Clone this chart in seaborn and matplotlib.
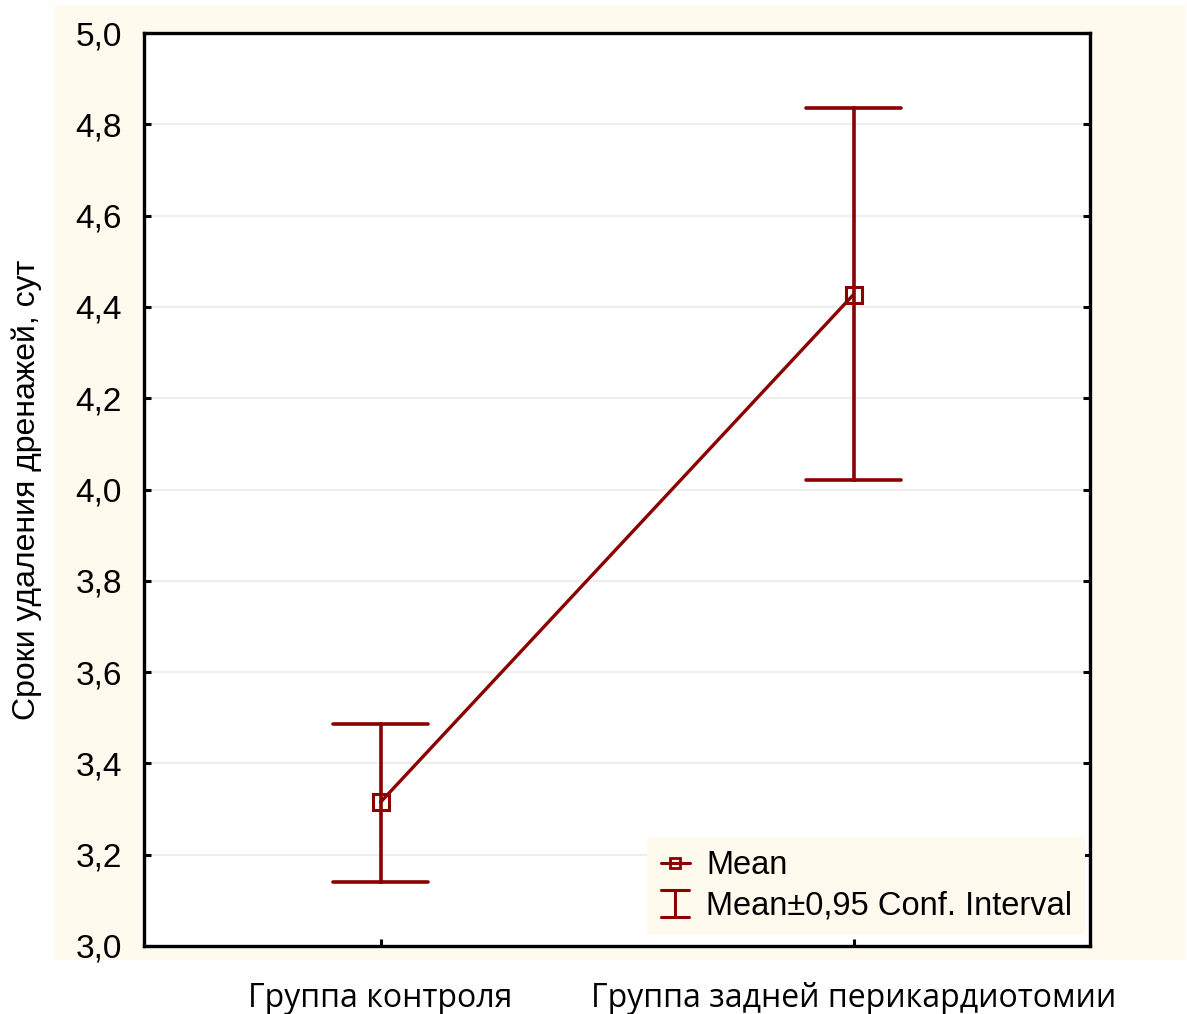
import numpy as np
import pandas as pd
import matplotlib
matplotlib.use("Agg")
import matplotlib.pyplot as plt
from matplotlib.lines import Line2D
from matplotlib.legend_handler import HandlerBase
from matplotlib.patches import Rectangle
import seaborn as sns

# ---- data ----
groups = ["Группа контроля", "Группа задней перикардиотомии"]
means = [3.315, 4.427]
ci_low = [3.140, 4.021]
ci_high = [3.487, 4.836]
yticks = [3.0, 3.2, 3.4, 3.6, 3.8, 4.0, 4.2, 4.4, 4.6, 4.8, 5.0]
ytick_labels = ["3,0", "3,2", "3,4", "3,6", "3,8", "4,0", "4,2", "4,4", "4,6", "4,8", "5,0"]
ylabel = "Сроки удаления дренажей, сут"
legend_labels = ["Mean", "Mean±0,95 Conf. Interval"]

RED = "#8B0000"
CREAM = "#FFF9EE"

rows = []
for g, lo, m, hi in zip(groups, ci_low, means, ci_high):
    for v in (lo, m, hi):
        rows.append({"group": g, "value": v})
df = pd.DataFrame(rows)

sns.set_style("white")
plt.rcParams["font.family"] = ["Liberation Sans", "DejaVu Sans"]
plt.rcParams["text.color"] = "black"
plt.rcParams["axes.labelcolor"] = "black"

fig = plt.figure(figsize=(11.87, 10.14), dpi=100, facecolor="white")
bg = Rectangle((54 / 1187, 54 / 1014), (1186 - 54) / 1187, (1009 - 54) / 1014,
               transform=fig.transFigure, facecolor=CREAM, edgecolor="none", zorder=-10)
fig.patches.append(bg)
ax = fig.add_axes([144 / 1187, (1014 - 946) / 1014, (1090 - 144) / 1187, (946 - 33) / 1014])
ax.set_zorder(5)
ax.set_facecolor("white")

sns.pointplot(data=df, x="group", y="value", order=groups,
              estimator=np.median, errorbar=lambda v: (v.min(), v.max()),
              color=RED, markers="s", capsize=0.2, ax=ax,
              markersize=11, markerfacecolor="none", markeredgewidth=2.2,
              linewidth=2.4, err_kws={"linewidth": 2.6}, zorder=3)

ax.set_xlim(-0.5, 1.5)
ax.set_ylim(3.0, 5.0)
ax.set_yticks(yticks)
ax.set_yticklabels(ytick_labels, fontsize=24)
ax.set_xticks(range(len(groups)))
ax.set_xticklabels(groups, fontsize=23, family=["Open Sans", "DejaVu Sans"])
ax.set_xlabel("")
ax.set_ylabel(ylabel, fontsize=23, color="black")
ax.yaxis.set_label_coords(-0.108, 0.5)

ax.grid(axis="y", color="#ebebeb", linewidth=1.2)
ax.set_axisbelow(True)
for s in ax.spines.values():
    s.set_visible(True)
    s.set_color("black")
    s.set_linewidth(2.4)
ax.tick_params(axis="y", direction="in", length=5, width=2.2, left=True, right=True, pad=16, colors="black")
ax.tick_params(axis="x", direction="in", length=5, width=2.2, bottom=True, top=False, pad=26, colors="black")


class HandlerCI(HandlerBase):
    def create_artists(self, legend, orig_handle, xdescent, ydescent, width, height, fontsize, trans):
        cx = width / 2 - xdescent
        h = height * 1.15
        y0 = height / 2 - h / 2 - ydescent
        y1 = y0 + h
        cw = width * 0.95
        lines = [
            Line2D([cx, cx], [y0, y1]),
            Line2D([cx - cw / 2, cx + cw / 2], [y0, y0]),
            Line2D([cx - cw / 2, cx + cw / 2], [y1, y1]),
        ]
        for ln in lines:
            ln.set_color(RED)
            ln.set_linewidth(2.2)
            ln.set_transform(trans)
        return lines


h_mean = Line2D([], [], color=RED, marker="s", markerfacecolor="none", markersize=7,
                markeredgewidth=2, linewidth=2.2)
h_ci = Line2D([], [], color=RED)
leg = ax.legend([h_mean, h_ci], legend_labels, handler_map={h_ci: HandlerCI()},
                loc="lower right", bbox_to_anchor=(0.995, 0.012), fontsize=23.5,
                frameon=True, facecolor=CREAM, edgecolor="none", framealpha=1, fancybox=False,
                handlelength=0.9, handletextpad=0.5, borderpad=0.4, labelspacing=0.3,
                borderaxespad=0)
for t in leg.get_texts():
    t.set_color("black")

fig.savefig("out.png", dpi=100, facecolor="white")
